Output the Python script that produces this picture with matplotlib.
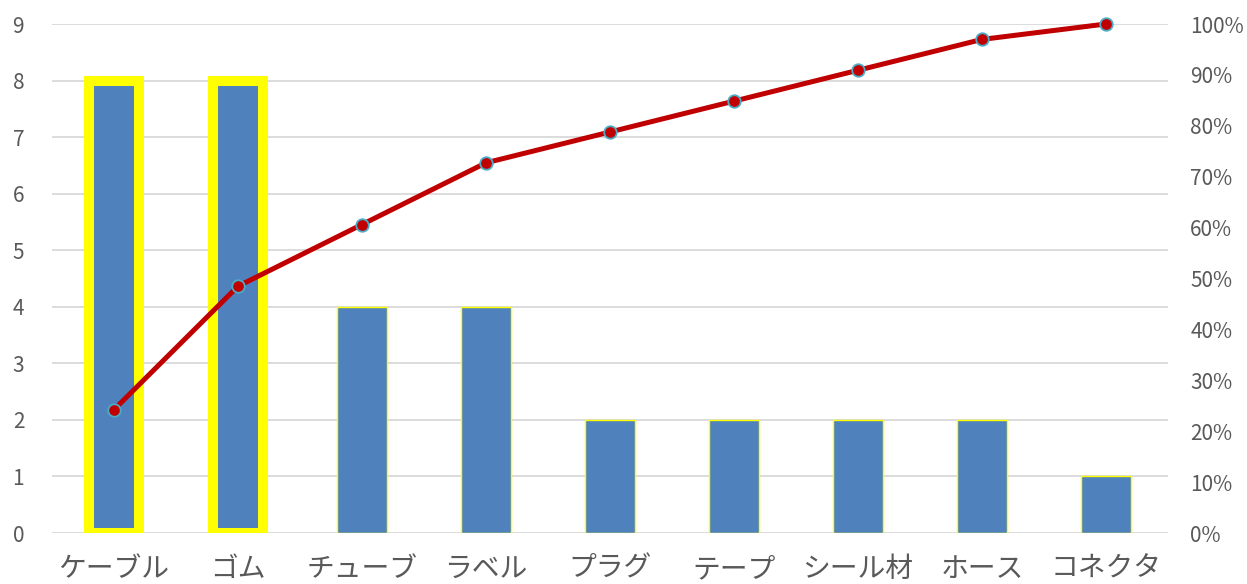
import matplotlib
matplotlib.use("Agg")
import matplotlib.pyplot as plt
import numpy as np
from matplotlib.ticker import PercentFormatter

plt.rcParams['font.family'] = ['Noto Sans CJK JP', 'DejaVu Sans']

categories = ['ケーブル', 'ゴム', 'チューブ', 'ラベル', 'プラグ', 'テープ', 'シール材', 'ホース', 'コネクタ']
counts = [8, 8, 4, 4, 2, 2, 2, 2, 1]
highlight = [True, True, False, False, False, False, False, False, False]

cum_pct = np.cumsum(counts) / np.sum(counts)

grey = '#595959'
fig = plt.figure(figsize=(12.47, 5.84), dpi=100)
ax = fig.add_axes([0.0417, 0.0873, 0.8949, 0.8716])
x = np.arange(len(categories))

for i in range(len(categories)):
    lw = 7.2 if highlight[i] else 1.0
    ax.bar(x[i], counts[i], width=0.4, color='#4F81BD', edgecolor='#FFFF00',
           linewidth=lw, zorder=2)

ax.set_xlim(-0.5, len(categories) - 0.5)
ax.set_ylim(0, 9)
ax.set_yticks(range(10))
ax.grid(axis='y', color='#D9D9D9', linewidth=1.3, zorder=0)
ax.set_axisbelow(True)
ax.set_xticks(x)
ax.set_xticklabels(categories, fontsize=20, color=grey)
ax.tick_params(axis='x', length=0, pad=15)
ax.tick_params(axis='y', length=0, pad=20, labelsize=15, labelcolor=grey)
for s in ax.spines.values():
    s.set_visible(False)

ax2 = ax.twinx()
ax2.plot(x, cum_pct, color='#C00000', linewidth=3.6, marker='o', markersize=9,
         markerfacecolor='#C00000', markeredgecolor='#4BACC6', markeredgewidth=1.3,
         zorder=3, clip_on=False)
ax2.set_ylim(0, 1)
ax2.set_yticks(np.linspace(0, 1, 11))
ax2.yaxis.set_major_formatter(PercentFormatter(1.0, decimals=0))
ax2.tick_params(axis='y', length=0, pad=16, labelsize=15, labelcolor=grey)
for s in ax2.spines.values():
    s.set_visible(False)

fig.savefig('out.png', dpi=100)
